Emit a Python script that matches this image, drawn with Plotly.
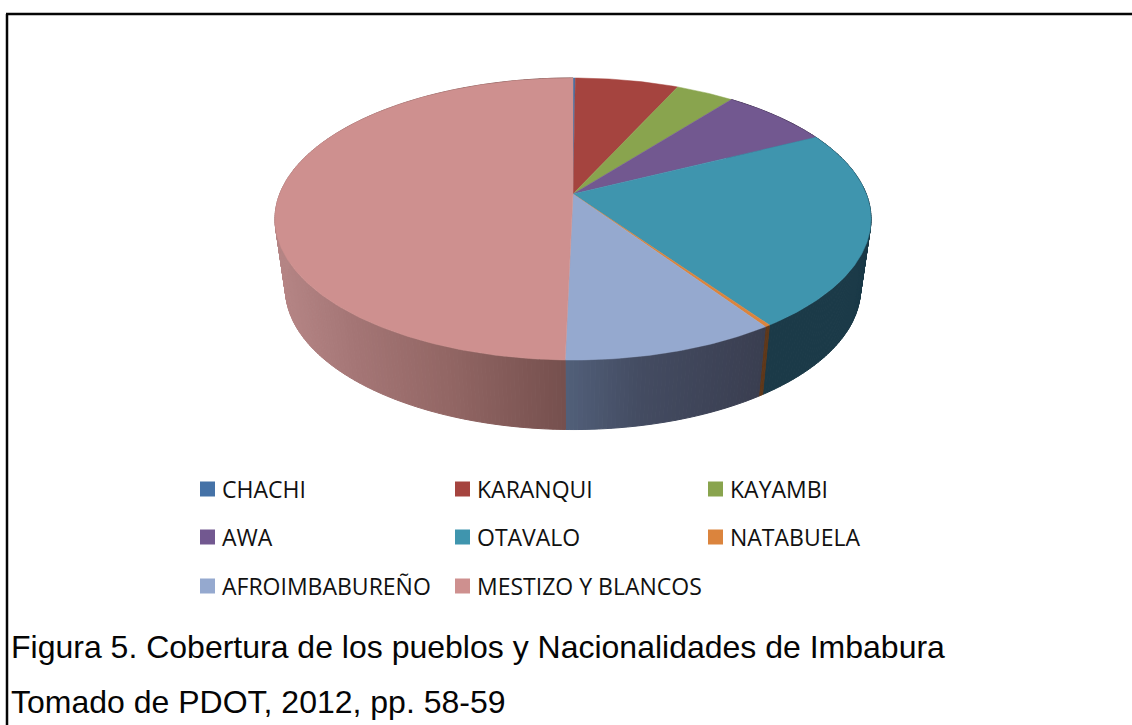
import numpy as np
import plotly.graph_objects as go

categories = ["CHACHI", "KARANQUI", "KAYAMBI", "AWA", "OTAVALO", "NATABUELA",
              "AFROIMBABUREÑO", "MESTIZO Y BLANCOS"]
values = [0.15, 6.65, 3.75, 7.05, 22.7, 0.25, 9.8, 49.65]
colors = ["#4572A7", "#A5443F", "#89A44E", "#725890", "#3F95AE", "#DB843D", "#95A9CF", "#CE908F"]
# side wall colour stops: (screen x, colour)
side_stops = {
    "MESTIZO Y BLANCOS": [(275, (182, 134, 134)), (350, (165, 118, 118)), (450, (146, 102, 100)), (565, (118, 80, 78))],
    "AFROIMBABUREÑO": [(565, (82, 96, 122)), (640, (68, 76, 98)), (770, (58, 62, 80))],
    "NATABUELA": [(760, (95, 56, 26)), (775, (95, 56, 26))],
    "OTAVALO": [(760, (27, 58, 72)), (875, (27, 58, 72))],
    "AWA": [(700, (60, 45, 75)), (875, (60, 45, 75))],
}
legend_rows = [489, 537, 586]
legend_cols = [200, 455, 708]
caption_lines = ["Figura 5. Cobertura de los pueblos y Nacionalidades de Imbabura",
                 "Tomado de PDOT, 2012, pp. 58-59"]

CX, CY = 573.0, 194.0
K, A, B = 0.1773, 136.6, 293.3
DEPTH, SHRINK = 69.5, 0.965


def top_xy(theta):
    """theta: clockwise from 12 o'clock, radians; perspective view of the disc."""
    X, Y = np.sin(theta), np.cos(theta)
    d = 1 + K * Y
    return CX + B * X / d, CY - A * Y / d


def bottom_xy(theta):
    x, y = top_xy(theta)
    return CX + SHRINK * (x - CX), y + DEPTH


def side_color(stops, x):
    xs = [s[0] for s in stops]
    rgb = [np.interp(x, xs, [s[1][i] for s in stops]) for i in range(3)]
    return "rgb(%d,%d,%d)" % tuple(int(v) for v in rgb)


fig = go.Figure()
edges = np.cumsum([0] + values) / sum(values) * 2 * np.pi

# side wall
for name, a0, a1 in zip(categories, edges[:-1], edges[1:]):
    if name not in side_stops:
        continue
    n = max(2, int((a1 - a0) / 0.012))
    th = np.linspace(a0, a1, n + 1)
    for t0, t1 in zip(th[:-1], th[1:]):
        pair = np.array([t0, t1])
        xt, yt = top_xy(pair)
        xb, yb = bottom_xy(pair)
        c = side_color(side_stops[name], xt.mean())
        fig.add_trace(go.Scatter(x=[xt[0], xt[1], xb[1], xb[0], xt[0]],
                                 y=[yt[0], yt[1], yb[1], yb[0], yt[0]],
                                 mode="lines", fill="toself", fillcolor=c,
                                 line=dict(color=c, width=1), hoverinfo="skip", showlegend=False))

# top face
for name, col, a0, a1 in zip(categories, colors, edges[:-1], edges[1:]):
    th = np.linspace(a0, a1, max(2, int((a1 - a0) / 0.01)))
    xs, ys = top_xy(th)
    fig.add_trace(go.Scatter(x=np.r_[CX, xs, CX], y=np.r_[CY, ys, CY], name=name,
                             mode="lines", fill="toself", fillcolor=col,
                             line=dict(color=col, width=0.5), showlegend=False,
                             hoverinfo="name"))

# legend
annotations = []
lx, ly, lc = [], [], []
for i, (name, col) in enumerate(zip(categories, colors)):
    x0 = legend_cols[i % 3]
    y0 = legend_rows[i // 3]
    lx.append(x0 + 7.5)
    ly.append(y0)
    lc.append(col)
    annotations.append(dict(x=x0 + 20, y=y0 - 0.5, text=name, showarrow=False, xanchor="left",
                            yanchor="middle", xref="x", yref="y",
                            font=dict(family="Open Sans", size=23, color="#111111")))
fig.add_trace(go.Scatter(x=lx, y=ly, mode="markers", showlegend=False, hoverinfo="skip",
                         marker=dict(symbol="square", size=15, color=lc, line=dict(width=0))))

for line, y in zip(caption_lines, [647, 702]):
    annotations.append(dict(x=9, y=y, text=line, showarrow=False, xanchor="left", yanchor="middle",
                            xref="x", yref="y",
                            font=dict(family="Liberation Sans", size=32, color="#050505")))

shapes = [
    dict(type="line", xref="x", yref="y", x0=7, x1=7, y0=14, y1=725, line=dict(color="#050505", width=2.5)),
    dict(type="line", xref="x", yref="y", x0=6, x1=1132, y0=14, y1=14, line=dict(color="#050505", width=2.5)),
]

fig.update_layout(
    width=1132, height=725, margin=dict(l=0, r=0, t=0, b=0),
    paper_bgcolor="white", plot_bgcolor="white",
    xaxis=dict(range=[0, 1132], visible=False, fixedrange=True),
    yaxis=dict(range=[725, 0], visible=False, fixedrange=True),
    annotations=annotations, shapes=shapes,
)
fig.write_html("out.html", config={"displayModeBar": False},
               post_script="document.body.style.margin='0';document.documentElement.style.overflow='hidden';")
